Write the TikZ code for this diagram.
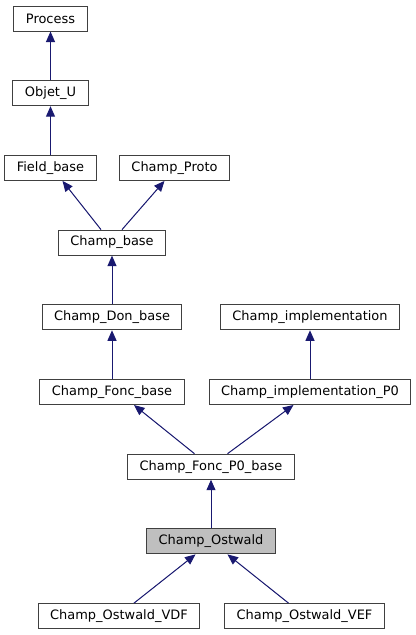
\documentclass[tikz,border=0pt]{standalone}
\usepackage{fontspec}
\setmainfont{DejaVu Sans}
\usepackage{tikz}
\usetikzlibrary{arrows.meta,positioning}
\definecolor{edgeblue}{HTML}{191970}
\definecolor{boxgray}{HTML}{404040}

\begin{document}
\begin{tikzpicture}[node distance=74.7bp, inner sep=0pt, minimum height=25bp]
    \useasboundingbox (0,0) rectangle (416bp,-635bp);

    \tikzstyle{cls}=[rectangle, draw=boxgray, line width=1bp, fill=white, text=black, inner xsep=12bp, font=\fontsize{13}{15}\selectfont] \tikzstyle{cur}=[cls, fill=black!25]                     \tikzstyle{inh}=[-{Triangle[length=10.5bp,width=9bp]}, draw=edgeblue, fill=edgeblue, line width=1bp]

    \node[cls] (Process) at (50.5bp,-18.5bp) {Process}; \node[cls] (ObjetU) [below of=Process] {Objet\_U}; \node[cls] (Field) [below of=ObjetU] {Field\_base}; \node[cls] (Proto) [right of=Field, node distance=124bp] {Champ\_Proto};
    \node[cls] (Base) [below of=Field, xshift=61.5bp] {Champ\_base}; \node[cls] (Don) [below of=Base] {Champ\_Don\_base}; \node[cls] (Fonc) [below of=Don] {Champ\_Fonc\_base};
    \node[cls] (Impl) [right of=Don, node distance=198bp] {Champ\_implementation}; \node[cls] (ImplP0) [below of=Impl] {Champ\_implementation\_P0};
    \node[cls] (FoncP0) [below of=Fonc, xshift=99bp] {Champ\_Fonc\_P0\_base}; \node[cur] (Ostwald) [below of=FoncP0] {Champ\_Ostwald};
    \node[cls] (VDF) [below of=Ostwald, xshift=-92bp] {Champ\_Ostwald\_VDF}; \node[cls] (VEF) [below of=Ostwald, xshift=93.5bp] {Champ\_Ostwald\_VEF};

    \draw[inh] (ObjetU) to (Process) ;
    \draw[inh] (Field) to (ObjetU) ;
    \draw[inh] ([xshift=-11bp] Base.north) to ([xshift=12bp] Field.south) ;
    \draw[inh] ([xshift=10bp] Base.north) to ([xshift=-10bp] Proto.south) ;
    \draw[inh] (Don) to (Base) ;
    \draw[inh] (Fonc) to (Don) ;
    \draw[inh] (ImplP0) to (Impl) ;
    \draw[inh] ([xshift=-16.5bp] FoncP0.north) to ([xshift=22bp] Fonc.south) ;
    \draw[inh] ([xshift=16.5bp] FoncP0.north) to ([xshift=-16.5bp] ImplP0.south) ;
    \draw[inh] (Ostwald) to (FoncP0) ;
    \draw[inh] ([xshift=15bp] VDF.north) to ([xshift=-15.5bp] Ostwald.south) ;
    \draw[inh] ([xshift=-16bp] VEF.north) to ([xshift=16.5bp] Ostwald.south) ;
  \end{tikzpicture}
\end{document}
